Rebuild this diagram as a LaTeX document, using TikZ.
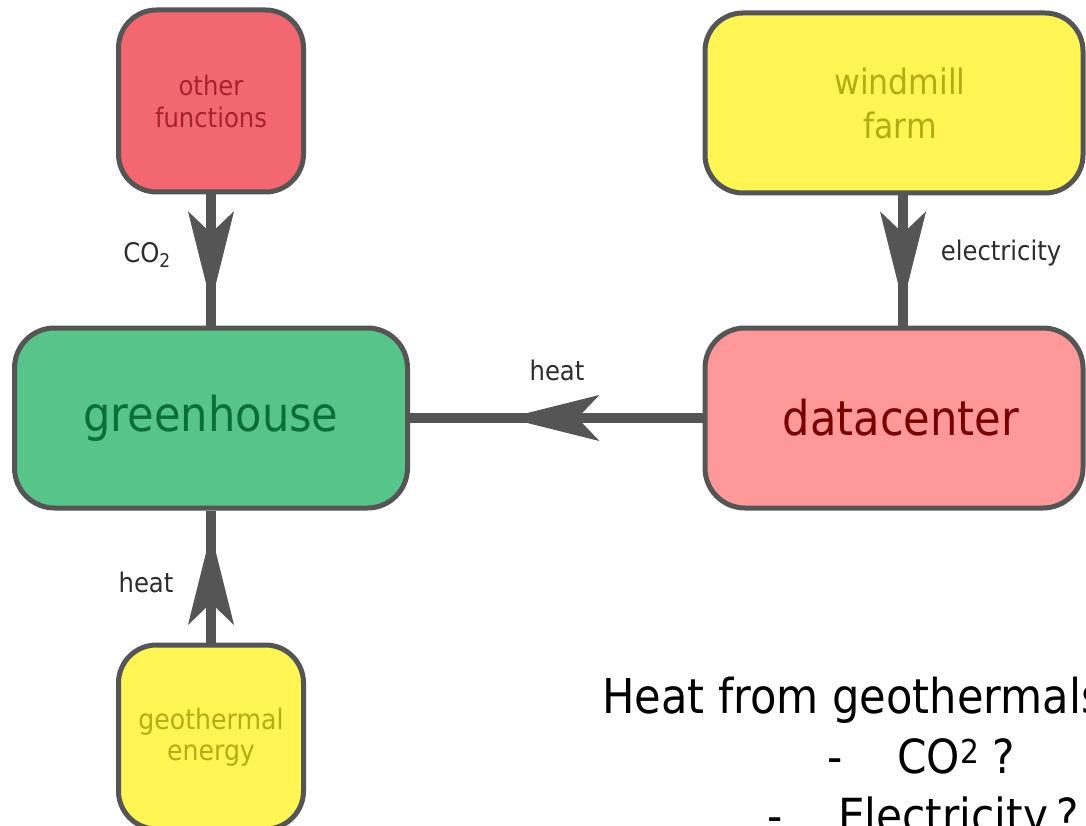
\documentclass[tikz,border=0pt]{standalone}
\usepackage{fontspec}
\setmainfont{DejaVu Sans Condensed}
\usetikzlibrary{positioning}
\usetikzlibrary{arrows.meta,decorations.markings}

\definecolor{linegray}{RGB}{85,85,85}
\definecolor{labelgray}{RGB}{45,45,45}
\definecolor{otherfill}{RGB}{243,104,112}
\definecolor{othertext}{RGB}{165,35,45}
\definecolor{yellowfill}{RGB}{255,245,85}
\definecolor{yellowtext}{RGB}{180,172,20}
\definecolor{greenfill}{RGB}{87,196,138}
\definecolor{greentext}{RGB}{10,110,55}
\definecolor{datafill}{RGB}{255,152,152}
\definecolor{datatext}{RGB}{120,0,0}

\begin{document}
\begin{tikzpicture}[x=1pt,y=-1pt,
    box/.style={draw=linegray, line width=5pt, rounded corners=38pt, inner sep=0pt, align=center},
    flow/.style={draw=linegray, line width=10pt, postaction={decorate},
        decoration={markings, mark=at position #1 with {\arrow[line width=1pt]{Stealth[length=92pt,width=46pt,inset=22pt]}}}},
    lbl/.style={text=labelgray, font=\fontsize{27}{32}\selectfont, anchor=base}]
    \clip (0,0) rectangle (1086,826);
    \fill[white] (0,0) rectangle (1086,826);
    %Boxes
    \node[box, fill=otherfill, text=othertext, minimum width=185pt, minimum height=182pt,
        font=\fontsize{27}{32}\selectfont] (other) at (211,101) {other\\functions};
    \node[box, fill=greenfill, text=greentext, minimum width=393pt, minimum height=180pt,
        rounded corners=40pt, font=\fontsize{48}{56}\selectfont] (greenhouse) at (211,418) {greenhouse};
    \node[box, fill=yellowfill, text=yellowtext, minimum width=185pt, minimum height=184pt,
        font=\fontsize{28}{31}\selectfont] (geothermal) at (211,737) {geothermal\\energy};
    \node[box, fill=yellowfill, text=yellowtext, minimum width=378pt, minimum height=180pt,
        font=\fontsize{35}{44}\selectfont] (windmill) at (894,103) {\hspace*{12pt}windmill\\\hspace*{12pt}farm};
    \node[box, fill=datafill, text=datatext, minimum width=378pt, minimum height=180pt,
        rounded corners=40pt, font=\fontsize{48}{56}\selectfont] (datacenter) at (894,418) {\hspace*{14pt}datacenter};
    %Lines
    \draw[flow=0.83] (other) -- (greenhouse);
    \draw[flow=0.83] ([xshift=9pt]windmill.south) -- ([xshift=9pt]datacenter.north);
    \draw[flow=0.667] (datacenter) -- (greenhouse);
    \draw[flow=0.83] (geothermal) -- (greenhouse);
    %Labels
    \node[lbl] (lco2) at (147,262) {CO\textsubscript{2}};
    \node[lbl] (lelec) at (1001,260) {electricity};
    \node[lbl] (lheattop) at (557,380) {heat};
    \node[lbl] (lheatlow) at (146,592) {heat};
    %Notes
    \begin{scope}[every node/.style={font=\fontsize{47}{56}\selectfont, anchor=base west, inner sep=0pt}]
        \node[font=\fontsize{48}{56}\selectfont] (note) at (602,713) {Heat from geothermal\hspace{0.5pt}s};
        \node (dasha) at (827,773) {-};
        \node (qco2) at (897,773) {CO\textsuperscript{2} ?};
        \node (dashb) at (767,832) {-};
        \node (qelec) at (838,832) {Electricity\hspace{8pt}?};
    \end{scope}
\end{tikzpicture}
\end{document}
